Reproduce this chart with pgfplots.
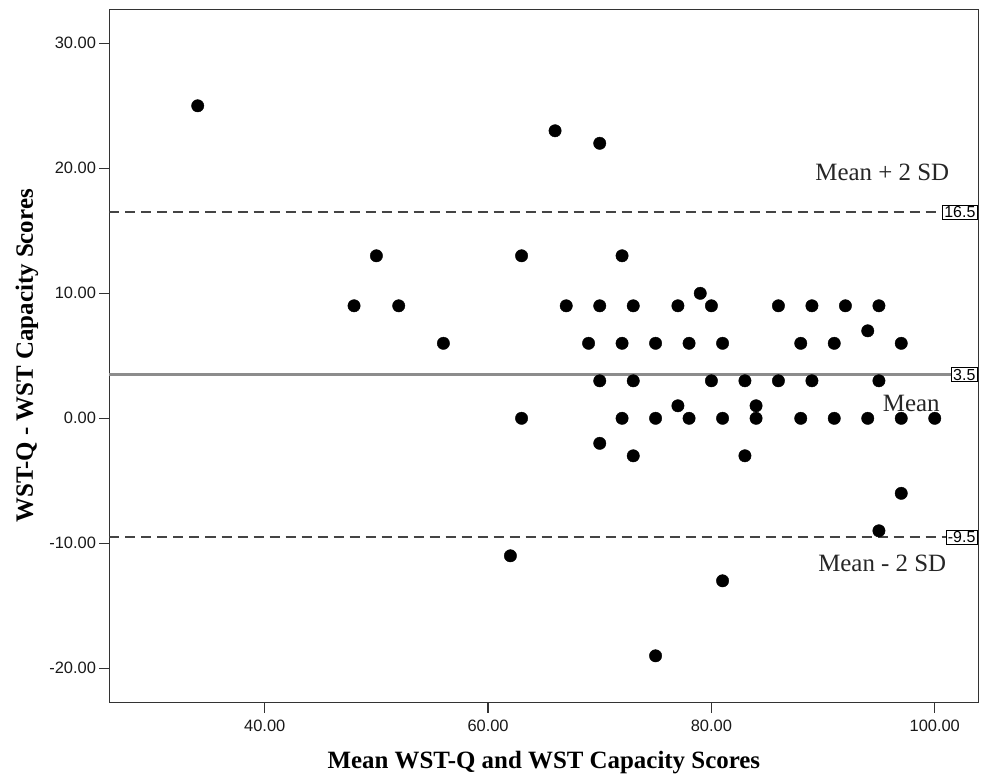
\documentclass[border=0pt]{standalone}
\usepackage{pgfplots}
\pgfplotsset{compat=1.18}
\usepackage{fontspec}
\setmainfont{Liberation Serif}
\setsansfont{Liberation Sans}
\definecolor{frame}{HTML}{333333}
\definecolor{meanline}{HTML}{8C8C8C}
\definecolor{dashline}{HTML}{444444}
\begin{document}
\begin{tikzpicture}
\begin{axis}[
  width=868.8bp, height=693.4bp, scale only axis,
  xmin=26.1, xmax=103.9, ymin=-22.75, ymax=32.72,
  xtick={40,60,80,100}, ytick={-20,-10,0,10,20,30},
  tick align=outside, tick pos=left,
  major tick length=10bp,
  axis line style={draw=frame, line width=1.3bp},
  every tick/.style={draw=frame, line width=1.3bp},
  tick label style={font=\sffamily\fontsize{16.5}{18}\selectfont, text=black!90},
  xticklabel style={yshift=-4bp},
  /pgf/number format/fixed, /pgf/number format/fixed zerofill,
  /pgf/number format/precision=2, /pgf/number format/assume math mode=true,
  xlabel={Mean WST-Q and WST Capacity Scores},
  ylabel={WST-Q - WST Capacity Scores},
  xlabel style={font=\bfseries\fontsize{25}{28}\selectfont, at={(axis description cs:0.5,-0.0865)}, anchor=center},
  ylabel style={font=\bfseries\fontsize{25}{28}\selectfont, at={(axis description cs:-0.095,0.5)}, anchor=center},
  clip=false,
]
% limits of agreement
\addplot[dashline, line width=1.5bp, dash pattern=on 10bp off 6bp] coordinates {(26.1,16.5) (103.9,16.5)};
\addplot[dashline, line width=1.5bp, dash pattern=on 10bp off 6bp] coordinates {(26.1,-9.5) (103.9,-9.5)};
\addplot[meanline, line width=2.5bp] coordinates {(26.1,3.5) (103.9,3.5)};
% data
\addplot[only marks, mark=*, mark size=6.2bp, black] coordinates {
(34,25) (66,23) (70,22)
(50,13) (63,13) (72,13)
(79,10)
(48,9) (52,9) (67,9) (70,9) (73,9) (77,9) (80,9) (86,9) (89,9) (92,9) (95,9)
(94,7)
(56,6) (69,6) (72,6) (75,6) (78,6) (81,6) (88,6) (91,6) (97,6)
(70,3) (73,3) (80,3) (83,3) (86,3) (89,3) (95,3)
(77,1) (84,1)
(63,0) (72,0) (75,0) (78,0) (81,0) (84,0) (88,0) (91,0) (94,0) (97,0) (100,0)
(70,-2)
(73,-3) (83,-3)
(97,-6)
(95,-9)
(62,-11)
(81,-13)
(75,-19)
};
% labels
\node[draw=black, line width=0.8bp, fill=white, anchor=east, inner sep=1.5bp, font=\sffamily\fontsize{16}{17}\selectfont] at ([xshift=-1bp]axis cs:103.9,16.5) {16.5};
\node[draw=black, line width=0.8bp, fill=white, anchor=east, inner sep=1.5bp, font=\sffamily\fontsize{16}{17}\selectfont] at ([xshift=-1bp]axis cs:103.9,3.5) {3.5};
\node[draw=black, line width=0.8bp, fill=white, anchor=east, inner sep=1.5bp, font=\sffamily\fontsize{16}{17}\selectfont] at ([xshift=-1bp]axis cs:103.9,-9.5) {-9.5};
\node[font=\fontsize{25}{28}\selectfont, text=black!85] at (axis cs:95.3,19.7) {Mean + 2 SD};
\node[font=\fontsize{25}{28}\selectfont, text=black!85] at (axis cs:97.9,1.2) {Mean};
\node[font=\fontsize{25}{28}\selectfont, text=black!85] at (axis cs:95.3,-11.6) {Mean - 2 SD};
\end{axis}
\pgfresetboundingbox
\path[use as bounding box] ([shift={(-109.5bp,-76.3bp)}]current axis.south west) rectangle ([shift={(2.7bp,9.3bp)}]current axis.north east);
\end{tikzpicture}
\end{document}
